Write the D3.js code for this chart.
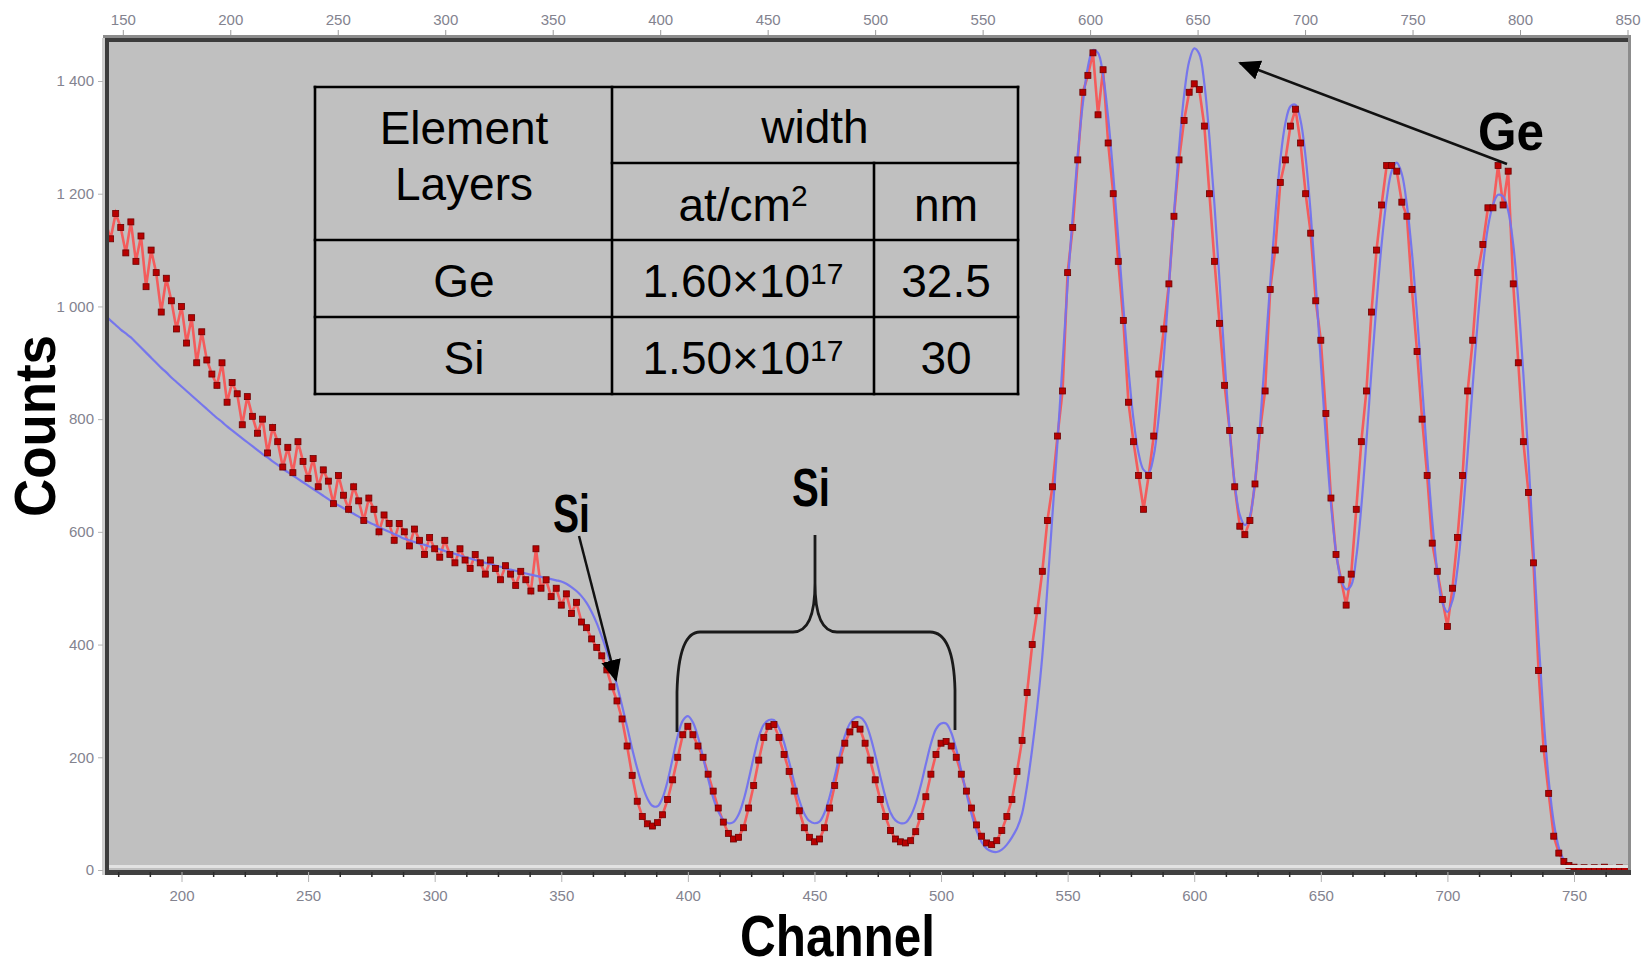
<!DOCTYPE html>
<html>
<head>
<meta charset="utf-8">
<script src="https://cdn.jsdelivr.net/npm/d3@7"></script>
<style>
    body { margin: 0; background: #ffffff; }
    svg { display: block; }
    .tick-label text { font-family: "Liberation Sans", Arial, sans-serif; font-size: 15px; fill: #83838f; }
    .table-text { font-family: "Liberation Sans", Arial, sans-serif; font-size: 46px; fill: #000; }
    .note { font-family: "Liberation Sans", Arial, sans-serif; font-weight: bold; fill: #000; }
</style>
</head>
<body>
<svg id="chart" width="1645" height="969"></svg>
<script>
// Channel grid of the measured spectrum (bottom axis), every 2 channels
var channels = d3.range(170, 771, 2);

// Measured counts (red points), one value per channel above
var measuredCounts = [
    1150, 1120, 1165, 1140, 1095, 1150, 1080, 1125, 1035, 1100,
    1060, 990, 1050, 1010, 960, 1000, 935, 980, 900, 955,
    905, 880, 860, 900, 830, 865, 845, 790, 840, 805,
    775, 800, 740, 785, 760, 715, 750, 705, 760, 725,
    695, 730, 680, 710, 690, 650, 700, 665, 640, 680,
    655, 620, 660, 640, 600, 630, 615, 585, 615, 600,
    575, 605, 585, 560, 590, 570, 555, 585, 560, 545,
    570, 550, 535, 560, 545, 525, 550, 535, 515, 540,
    525, 505, 530, 515, 495, 570, 500, 515, 485, 500,
    470, 490, 455, 475, 440, 430, 410, 395, 380, 355,
    325, 300, 268, 220, 168, 122, 95, 82, 78, 84,
    98, 125, 160, 200, 240, 255, 240, 220, 200, 170,
    140, 110, 85, 65, 55, 58, 75, 110, 150, 195,
    235, 255, 258, 235, 205, 175, 140, 105, 75, 58,
    50, 55, 75, 110, 150, 195, 225, 245, 258, 250,
    225, 195, 160, 125, 95, 70, 55, 50, 48, 52,
    68, 95, 130, 170, 205, 225, 228, 220, 200, 170,
    140, 110, 80, 60, 48, 45, 52, 70, 95, 125,
    175, 230, 315, 400, 460, 530, 620, 680, 770, 850,
    1060, 1140, 1260, 1380, 1410, 1450, 1340, 1420, 1290, 1200,
    1080, 975, 830, 760, 700, 640, 700, 770, 880, 960,
    1040, 1160, 1260, 1330, 1380, 1395, 1385, 1320, 1200, 1080,
    970, 860, 780, 680, 610, 595, 620, 685, 780, 850,
    1030, 1100, 1220, 1260, 1320, 1350, 1290, 1200, 1130, 1010,
    940, 810, 660, 560, 515, 470, 525, 640, 760, 850,
    990, 1100, 1180, 1250, 1250, 1240, 1185, 1160, 1030, 920,
    800, 700, 580, 530, 480, 432, 500, 590, 700, 850,
    940, 1060, 1110, 1175, 1175, 1250, 1180, 1240, 1040, 900,
    760, 670, 545, 354, 215, 136, 60, 30, 15, 8,
    5, 3, 4, 2, 4, 3, 5, 3, 2, 4,
    3
];

// Simulated fit (blue curve), same channels
var fitCounts = [
    983, 975, 967, 959, 952, 945, 936, 927, 918, 909,
    900, 891, 883, 874, 866, 858, 850, 842, 834, 826,
    818, 810, 802, 795, 787, 780, 773, 766, 759, 752,
    745, 738, 732, 725, 719, 712, 706, 700, 694, 688,
    682, 676, 670, 664, 658, 652, 647, 642, 637, 632,
    627, 622, 617, 613, 608, 604, 600, 596, 592, 588,
    585, 582, 579, 577, 574, 572, 569, 566, 563, 561,
    558, 555, 553, 550, 548, 545, 543, 540, 538, 535,
    533, 531, 529, 526, 524, 522, 520, 518, 516, 514,
    512, 508, 502, 495, 486, 474, 458, 438, 414, 388,
    360, 328, 292, 254, 215, 180, 150, 127, 114, 113,
    128, 158, 198, 238, 265, 273, 262, 236, 200, 162,
    128, 104, 89, 83, 85, 98, 124, 160, 200, 236,
    258, 266, 266, 252, 226, 192, 156, 124, 100, 87,
    83, 86, 102, 130, 166, 204, 238, 260, 270, 271,
    262, 238, 204, 166, 130, 102, 88, 83, 84, 96,
    118, 150, 188, 224, 250, 260, 260, 244, 214, 176,
    136, 100, 70, 50, 38, 33, 32, 36, 45, 58,
    74, 100, 150, 215, 290, 380, 500, 630, 760, 900,
    1040, 1160, 1270, 1360, 1425, 1455, 1450, 1410, 1335, 1235,
    1120, 1000, 890, 800, 740, 710, 705, 735, 805, 910,
    1035, 1165, 1280, 1375, 1435, 1458, 1448, 1395, 1300, 1180,
    1045, 905, 780, 685, 630, 612, 628, 690, 790, 915,
    1040, 1160, 1260, 1325, 1355, 1358, 1330, 1265, 1165, 1040,
    900, 765, 650, 565, 515, 498, 505, 555, 645, 760,
    885, 1005, 1110, 1190, 1240, 1255, 1235, 1180, 1095, 985,
    860, 735, 620, 530, 475, 458, 478, 535, 625, 740,
    860, 975, 1070, 1140, 1180, 1198, 1195, 1170, 1110, 1010,
    880, 730, 570, 410, 270, 160, 85, 40, 18, 8,
    4, 3, 3, 3, 3, 3, 3, 3, 3, 3,
    3
];

// Axis ticks
var topTicks = [150, 200, 250, 300, 350, 400, 450, 500, 550, 600, 650, 700, 750, 800, 850];
var bottomTicks = [200, 250, 300, 350, 400, 450, 500, 550, 600, 650, 700, 750];
var countTicks = [0, 200, 400, 600, 800, 1000, 1200, 1400];

// Inset table
var tableHeader = ["Element", "Layers"];
var tableRows = [
    { element: "Ge", mantissa: "1.60×10", exponent: "17", nm: "32.5" },
    { element: "Si", mantissa: "1.50×10", exponent: "17", nm: "30" }
];

var svg = d3.select("#chart");

// Scales (two channel scales share the same pixel range)
var xBottom = d3.scaleLinear().domain([200, 750]).range([181.5, 1574]);
var xTop = d3.scaleLinear().domain([150, 850]).range([122.8, 1627.5]);
var y = d3.scaleLinear().domain([0, 1400]).range([870, 81]);

var box = { left: 105, right: 1630, top: 38, bottom: 875 };

// Plot background
svg.append("rect")
    .attr("x", box.left).attr("y", box.top)
    .attr("width", box.right - box.left).attr("height", box.bottom - box.top)
    .attr("fill", "#c0c0c0");

svg.append("clipPath").attr("id", "plot-clip")
    .append("rect")
    .attr("x", 109).attr("y", 42)
    .attr("width", 1519).attr("height", 828);

var points = channels.map((c, i) => ({ ch: c, v: measuredCounts[i], fit: fitCounts[i] }));

var plot = svg.append("g").attr("clip-path", "url(#plot-clip)");

// Measured line
plot.append("path")
    .datum(points)
    .attr("fill", "none")
    .attr("stroke", "#f45c5c")
    .attr("stroke-width", 2.6)
    .attr("d", d3.line().x(d => xBottom(d.ch)).y(d => y(d.v)));

// Fit line
plot.append("path")
    .datum(points)
    .attr("fill", "none")
    .attr("stroke", "#7272ee")
    .attr("stroke-width", 2.2)
    .attr("opacity", 0.95)
    .attr("d", d3.line().curve(d3.curveCatmullRom).x(d => xBottom(d.ch)).y(d => y(d.fit)));

// Measured points
plot.append("g").selectAll("rect")
    .data(points)
    .join("rect")
    .attr("x", d => xBottom(d.ch) - 3)
    .attr("y", d => y(d.v) - 3)
    .attr("width", 6).attr("height", 6)
    .attr("fill", "#b80000")
    .attr("stroke", "#6e0000")
    .attr("stroke-width", 0.8);

// Frame
svg.append("rect").attr("x", 103).attr("y", 35).attr("width", 1528).attr("height", 3).attr("fill", "#8c8c8c");
svg.append("rect").attr("x", 105).attr("y", 38).attr("width", 1525).attr("height", 4).attr("fill", "#3c3c3c");
svg.append("rect").attr("x", 102).attr("y", 38).attr("width", 3).attr("height", 837).attr("fill", "#cfcfcf");
svg.append("rect").attr("x", 105).attr("y", 38).attr("width", 4).attr("height", 837).attr("fill", "#3c3c3c");
svg.append("rect").attr("x", 1628).attr("y", 38).attr("width", 3).attr("height", 837).attr("fill", "#8c8c8c");
svg.append("rect").attr("x", 109).attr("y", 865).attr("width", 1519).attr("height", 3).attr("fill", "#e2e2e2");
svg.append("rect").attr("x", 105).attr("y", 870).attr("width", 1526).attr("height", 5).attr("fill", "#404040");

// Top axis
var topAxis = svg.append("g")
    .attr("class", "tick-label")
    .attr("transform", "translate(0,35)")
    .call(d3.axisTop(xTop).tickValues(topTicks).tickSize(5).tickPadding(5));
topAxis.select(".domain").remove();
topAxis.selectAll("line").attr("stroke", "#9a9a9a");

// Bottom axis, minor ticks
var minorTicks = d3.range(175, 770, 12.5).filter(v => v % 50 !== 0);
var minorAxis = svg.append("g")
    .attr("transform", "translate(0,872)")
    .call(d3.axisBottom(xBottom).tickValues(minorTicks).tickSize(5).tickFormat(""));
minorAxis.select(".domain").remove();
minorAxis.selectAll("line").attr("stroke", "#2a2a2a").attr("stroke-width", 1.5);

// Bottom axis, labelled ticks
var bottomAxis = svg.append("g")
    .attr("class", "tick-label")
    .attr("transform", "translate(0,872)")
    .call(d3.axisBottom(xBottom).tickValues(bottomTicks).tickSize(10).tickPadding(8));
bottomAxis.select(".domain").remove();
bottomAxis.selectAll("line").attr("stroke", "#b4b4b4");

// Left axis, thousands with a space
var fmt = d3.formatLocale({ decimal: ".", thousands: " ", grouping: [3], currency: ["", ""] }).format(",");
var leftAxis = svg.append("g")
    .attr("class", "tick-label")
    .attr("transform", "translate(103,0)")
    .call(d3.axisLeft(y).tickValues(countTicks).tickSize(5).tickPadding(4).tickFormat(fmt));
leftAxis.select(".domain").remove();
leftAxis.selectAll("line").attr("stroke", "#b4b4b4");

// Axis titles
svg.append("text")
    .attr("class", "note")
    .attr("x", 740).attr("y", 956)
    .attr("font-size", 58)
    .attr("textLength", 195).attr("lengthAdjust", "spacingAndGlyphs")
    .text("Channel");

svg.append("text")
    .attr("class", "note")
    .attr("transform", "translate(55,426) rotate(-90)")
    .attr("text-anchor", "middle")
    .attr("font-size", 58)
    .attr("textLength", 182).attr("lengthAdjust", "spacingAndGlyphs")
    .text("Counts");

// Inset table
var table = svg.append("g");
var lines = [
    [315, 87, 1018, 87], [315, 394, 1018, 394], [315, 87, 315, 394], [1018, 87, 1018, 394],
    [612, 87, 612, 394], [874, 163, 874, 394],
    [612, 163, 1018, 163], [315, 240, 1018, 240], [315, 317, 1018, 317]
];
table.selectAll("line")
    .data(lines)
    .join("line")
    .attr("x1", d => d[0]).attr("y1", d => d[1])
    .attr("x2", d => d[2]).attr("y2", d => d[3])
    .attr("stroke", "#000").attr("stroke-width", 2.6)
    .attr("stroke-linecap", "square");

table.selectAll(".head")
    .data(tableHeader)
    .join("text")
    .attr("class", "table-text")
    .attr("x", 464)
    .attr("y", (d, i) => 144 + i * 56)
    .attr("text-anchor", "middle")
    .text(d => d);

table.append("text").attr("class", "table-text")
    .attr("x", 815).attr("y", 143).attr("text-anchor", "middle").text("width");

var unit = table.append("text").attr("class", "table-text")
    .attr("x", 743).attr("y", 221).attr("text-anchor", "middle");
unit.append("tspan").text("at/cm");
unit.append("tspan").attr("dy", -15).attr("font-size", 30).text("2");

table.append("text").attr("class", "table-text")
    .attr("x", 946).attr("y", 221).attr("text-anchor", "middle").text("nm");

tableRows.forEach(function (r, i) {
    var by = 297 + i * 77;
    table.append("text").attr("class", "table-text")
        .attr("x", 464).attr("y", by).attr("text-anchor", "middle").text(r.element);
    var t = table.append("text").attr("class", "table-text")
        .attr("x", 743).attr("y", by).attr("text-anchor", "middle");
    t.append("tspan").text(r.mantissa);
    t.append("tspan").attr("dy", -13).attr("font-size", 30).text(r.exponent);
    table.append("text").attr("class", "table-text")
        .attr("x", 946).attr("y", by).attr("text-anchor", "middle").text(r.nm);
});

// Arrow marker
svg.append("defs").append("marker")
    .attr("id", "head")
    .attr("viewBox", "0 0 22 20")
    .attr("refX", 20).attr("refY", 10)
    .attr("markerWidth", 22).attr("markerHeight", 20)
    .attr("markerUnits", "userSpaceOnUse")
    .attr("orient", "auto")
    .append("path")
    .attr("d", "M0,0 L22,10 L0,20 Z")
    .attr("fill", "#000");

// Annotations
svg.append("text").attr("class", "note")
    .attr("x", 553).attr("y", 532).attr("font-size", 54)
    .attr("textLength", 37).attr("lengthAdjust", "spacingAndGlyphs").text("Si");

svg.append("line")
    .attr("x1", 579).attr("y1", 536).attr("x2", 616).attr("y2", 680)
    .attr("stroke", "#111").attr("stroke-width", 2.5)
    .attr("marker-end", "url(#head)");

svg.append("text").attr("class", "note")
    .attr("x", 792).attr("y", 506).attr("font-size", 54)
    .attr("textLength", 38).attr("lengthAdjust", "spacingAndGlyphs").text("Si");

svg.append("path")
    .attr("d", "M815,535 L815,583 C815,615 808,632 793,632 L700,632 C686,632 678,650 677,692 L677,732" +
        " M815,583 C815,615 822,632 837,632 L930,632 C945,632 954,650 955,690 L955,730")
    .attr("fill", "none").attr("stroke", "#1a1a1a").attr("stroke-width", 2.8);

svg.append("text").attr("class", "note")
    .attr("x", 1478).attr("y", 150).attr("font-size", 53)
    .attr("textLength", 66).attr("lengthAdjust", "spacingAndGlyphs").text("Ge");

svg.append("line")
    .attr("x1", 1507).attr("y1", 164).attr("x2", 1240).attr("y2", 63)
    .attr("stroke", "#111").attr("stroke-width", 2.5)
    .attr("marker-end", "url(#head)");
</script>
</body>
</html>
